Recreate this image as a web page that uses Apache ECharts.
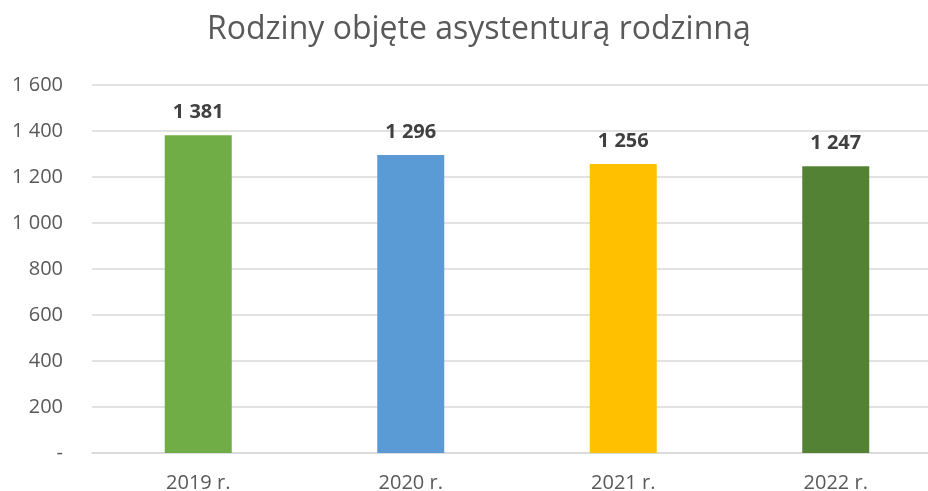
<!DOCTYPE html>
<html>
<head>
<meta charset="utf-8">
<script src="https://cdn.jsdelivr.net/npm/echarts@6/dist/echarts.min.js"></script>
<style>
  html, body { margin: 0; padding: 0; background: #fff; }
  #chart { width: 928px; height: 491px; }
</style>
</head>
<body>
<div id="chart"></div>
<script>
// Years and family counts
const categories = ['2019 r.', '2020 r.', '2021 r.', '2022 r.'];
const values = [1381, 1296, 1256, 1247];
const barColors = ['#70AD47', '#5B9BD5', '#FFC000', '#548235'];
const yTicks = [0, 200, 400, 600, 800, 1000, 1200, 1400, 1600];

const FONT = '"Open Sans", "Liberation Sans", sans-serif';

function fmt(v) {
  if (v === 0) return '-';
  return String(v).replace(/\B(?=(\d{3})+(?!\d))/g, ' ');
}

const chart = echarts.init(document.getElementById('chart'));
chart.setOption({
  animation: false,
  title: {
    text: 'Rodziny objęte asystenturą rodzinną',
    left: 202,
    top: 9,
    textStyle: { fontFamily: FONT, fontSize: 32, fontWeight: 'normal', color: '#595959' }
  },
  // plot area runs past the right edge of the canvas
  grid: { left: 92, width: 850, top: 85, bottom: 38, outerBoundsMode: 'none', containLabel: false },
  xAxis: {
    type: 'category',
    data: categories,
    axisLine: { show: true, lineStyle: { color: '#D9D9D9', width: 1.5 } },
    axisTick: { show: false },
    axisLabel: { fontFamily: FONT, fontSize: 20, color: '#595959', margin: 20 }
  },
  yAxis: {
    type: 'value',
    min: yTicks[0],
    max: yTicks[yTicks.length - 1],
    interval: 200,
    axisLine: { show: false },
    axisTick: { show: false },
    splitLine: { lineStyle: { color: '#D9D9D9', width: 1.5 } },
    axisLabel: { fontFamily: FONT, fontSize: 20, color: '#595959', margin: 29, formatter: fmt }
  },
  series: [{
    type: 'bar',
    barWidth: 67,
    data: values.map((v, i) => ({ value: v, itemStyle: { color: barColors[i] } })),
    label: {
      show: true,
      position: 'top',
      distance: 13,
      fontFamily: FONT,
      fontSize: 20,
      fontWeight: 'bold',
      color: '#404040',
      formatter: p => fmt(p.value)
    }
  }]
});
</script>
</body>
</html>
